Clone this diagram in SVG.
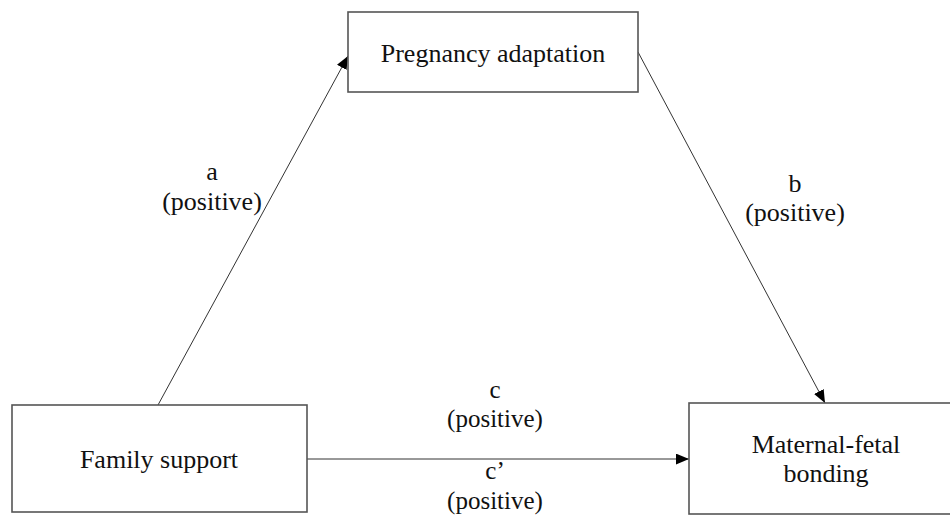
<svg xmlns="http://www.w3.org/2000/svg" width="950" height="530" viewBox="0 0 950 530">
<style>
.box{fill:#fff;stroke:#555;stroke-width:1.6}
.lbl{font-family:"Liberation Serif","Times New Roman",serif;font-size:26px;fill:#111;text-anchor:middle}
.sm{font-size:25px}
.con{stroke:#333;stroke-width:1;fill:none}
</style>
<defs>
<marker id="ah" viewBox="0 0 12 10" refX="12" refY="5" markerWidth="13" markerHeight="11" markerUnits="userSpaceOnUse" orient="auto">
<path d="M0,0 L12,5 L0,10 Z" fill="#000"/>
</marker>
</defs>
<rect width="950" height="530" fill="#fff"/>
<g id="connectors">
<line class="con" x1="158" y1="405" x2="348" y2="56" marker-end="url(#ah)"/>
<line class="con" x1="638" y1="52" x2="825" y2="403" marker-end="url(#ah)"/>
<line class="con" x1="307" y1="459" x2="689" y2="459" marker-end="url(#ah)"/>
<text class="lbl" x="212" y="180">a</text>
<text class="lbl" x="212" y="210">(positive)</text>
<text class="lbl" x="795" y="192">b</text>
<text class="lbl" x="795" y="221">(positive)</text>
<text class="lbl sm" x="495" y="398">c</text>
<text class="lbl sm" x="495" y="427">(positive)</text>
<text class="lbl sm" x="495" y="479">c’</text>
<text class="lbl sm" x="495" y="509">(positive)</text>
</g>
<g id="pregnancy">
<rect class="box" x="348" y="12" width="290" height="80"/>
<text class="lbl" x="493" y="62">Pregnancy adaptation</text>
</g>
<g id="family">
<rect class="box" x="12" y="405" width="295" height="107"/>
<text class="lbl" x="159" y="468">Family support</text>
</g>
<g id="maternal">
<rect class="box" x="689" y="403" width="274" height="111"/>
<text class="lbl" x="826" y="453">Maternal-fetal</text>
<text class="lbl" x="826" y="482">bonding</text>
</g>
</svg>
